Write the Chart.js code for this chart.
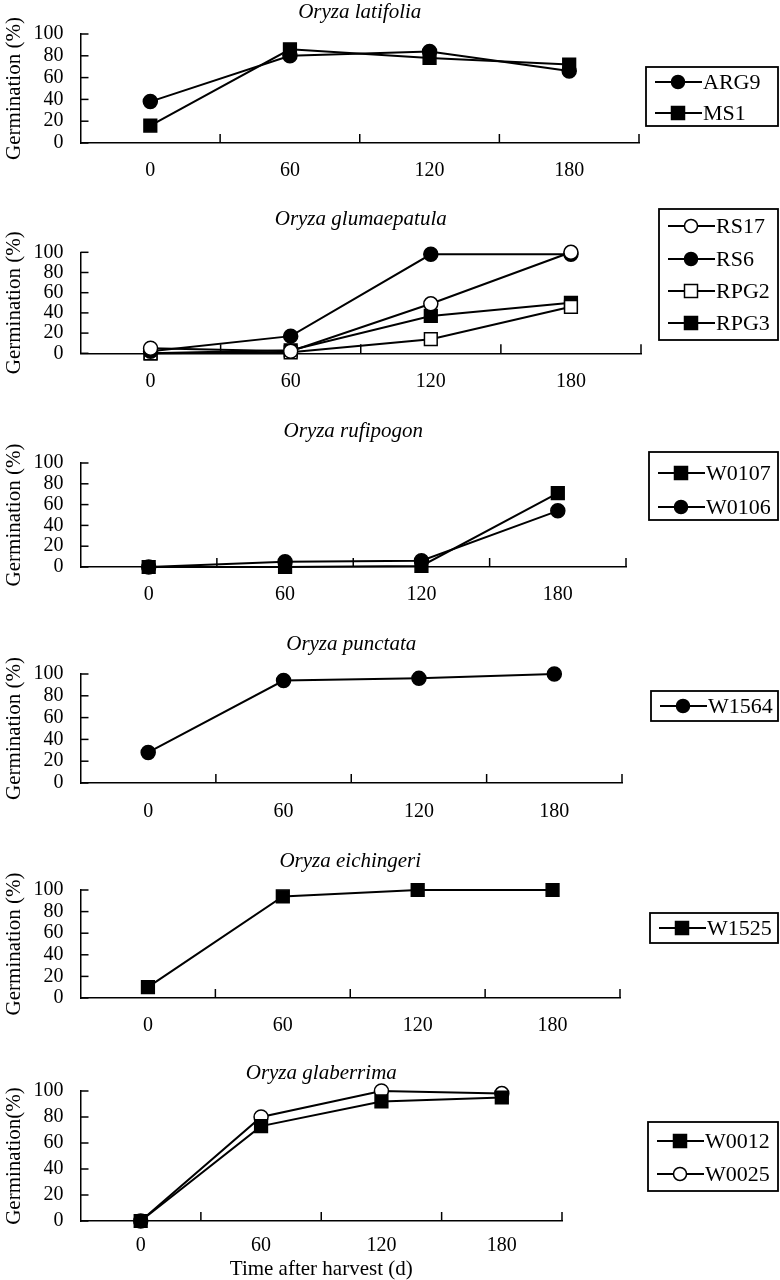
<!DOCTYPE html>
<html>
<head>
<meta charset="utf-8">
<script src="https://cdn.jsdelivr.net/npm/chart.js@4.4.1/dist/chart.umd.min.js"></script>
<style>
  html, body { margin: 0; padding: 0; background: #fff; }
  #page { position: relative; width: 780px; height: 1280px; overflow: hidden; }
  #page canvas { position: absolute; left: 0; }
</style>
</head>
<body>
<div id="page">
  <canvas id="latifolia" width="780" height="200" style="top:0px"></canvas>
  <canvas id="glumaepatula" width="780" height="220" style="top:200px"></canvas>
  <canvas id="rufipogon" width="780" height="212" style="top:420px"></canvas>
  <canvas id="punctata" width="780" height="218" style="top:632px"></canvas>
  <canvas id="eichingeri" width="780" height="212" style="top:850px"></canvas>
  <canvas id="glaberrima" width="780" height="218" style="top:1062px"></canvas>
</div>
<script>
// days after harvest (x categories)
const days = ["0", "60", "120", "180"];

// germination (%)
const arg9 = [38, 80, 84, 66];
const ms1 = [16, 86, 78, 72];

const rs17 = [5, 2, 49, 100];
const rs6 = [2, 17, 98, 98];
const rpg2 = [0, 1, 14, 46];
const rpg3 = [0, 3, 37, 50];

const w0107 = [0, 0, 1, 71];
const w0106 = [0, 5, 6, 54];

const w1564 = [28, 94, 96, 100];

const w1525 = [10, 94, 100, 100];

const w0012 = [0, 73, 92, 95];
const w0025 = [0, 80, 100, 98];

const FONT = "'Liberation Serif', 'Times New Roman', serif";
Chart.defaults.font.family = FONT;
Chart.defaults.color = "#000";

function series(label, values, shape, filled) {
  return {
    label: label,
    data: values,
    borderColor: "#000",
    borderWidth: 2,
    pointStyle: shape,
    pointRadius: shape === "rect" ? 9 : 7,
    pointBackgroundColor: filled ? "#000" : "#fff",
    pointBorderColor: "#000",
    pointBorderWidth: 1.5,
    fill: false,
    tension: 0,
    clip: false
  };
}

function line(ctx, x1, y1, x2, y2) {
  ctx.beginPath();
  ctx.moveTo(x1, y1);
  ctx.lineTo(x2, y2);
  ctx.stroke();
}

function legendMarker(ctx, ds, cx, cy) {
  ctx.fillStyle = ds.pointBackgroundColor;
  ctx.lineWidth = 1.5;
  ctx.beginPath();
  if (ds.pointStyle === "rect") {
    ctx.rect(cx - 6.5, cy - 6.5, 13, 13);
  } else {
    ctx.arc(cx, cy, 6.5, 0, Math.PI * 2);
  }
  ctx.fill();
  ctx.stroke();
}

// title, inward tick marks and boxed legend
const panelPlugin = {
  id: "panel",
  afterDraw(chart, args, opts) {
    const ctx = chart.ctx;
    const x = chart.scales.x;
    const y = chart.scales.y;
    const area = chart.chartArea;
    ctx.save();
    ctx.strokeStyle = "#000";
    ctx.fillStyle = "#000";
    ctx.lineWidth = 1.5;

    y.ticks.forEach((t) => {
      const py = y.getPixelForValue(t.value);
      line(ctx, area.left, py, area.left + 8, py);
    });

    for (let i = 1; i <= days.length; i++) {
      const px = i < days.length
        ? (x.getPixelForValue(i - 1) + x.getPixelForValue(i)) / 2
        : area.right;
      line(ctx, px, area.bottom, px, area.bottom - 9);
    }

    ctx.font = "italic 21px " + FONT;
    ctx.textAlign = "center";
    ctx.textBaseline = "middle";
    ctx.fillText(opts.title, (area.left + area.right) / 2, opts.titleY);

    const [bx, by, bw, bh] = opts.box;
    ctx.lineWidth = 1.8;
    ctx.strokeRect(bx, by, bw, bh);

    chart.data.datasets.forEach((ds, i) => {
      const ly = opts.rows[i];
      ctx.strokeStyle = "#000";
      ctx.lineWidth = 2;
      line(ctx, bx + 9, ly, bx + 56, ly);
      legendMarker(ctx, ds, bx + 32, ly);
      ctx.fillStyle = "#000";
      ctx.font = "22px " + FONT;
      ctx.textAlign = "left";
      ctx.textBaseline = "middle";
      ctx.fillText(ds.label, bx + 57, ly + 1);
    });
    ctx.restore();
  }
};

function makeChart(p) {
  const canvas = document.getElementById(p.id);
  const H = canvas.height;
  const xH = p.xTitle ? 58.5 : 40;
  return new Chart(canvas, {
    type: "line",
    data: { labels: days, datasets: p.datasets },
    options: {
      responsive: false,
      animation: false,
      devicePixelRatio: 1,
      events: [],
      layout: {
        padding: { left: 0, top: p.top, right: 780 - p.right, bottom: H - p.bottom - xH }
      },
      plugins: {
        legend: { display: false },
        tooltip: { enabled: false },
        panel: { title: p.title, titleY: p.titleY, box: p.box, rows: p.rows }
      },
      scales: {
        x: {
          type: "category",
          offset: true,
          grid: { display: false, drawTicks: false, offset: true },
          border: { display: true, color: "#000", width: 1.5 },
          ticks: {
            color: "#000",
            font: { size: 20, lineHeight: 1 },
            padding: p.labelPad,
            autoSkip: false,
            maxRotation: 0
          },
          title: {
            display: !!p.xTitle,
            text: p.xTitle || "",
            color: "#000",
            font: { size: 21, lineHeight: 1 },
            padding: 0
          },
          afterFit: (s) => { s.height = xH; }
        },
        y: {
          min: 0,
          max: 100,
          grid: { display: false, drawTicks: false },
          border: { display: true, color: "#000", width: 1.5 },
          ticks: {
            stepSize: 20,
            color: "#000",
            font: { size: 20, lineHeight: 1 },
            padding: 17,
            autoSkip: false
          },
          title: {
            display: true,
            text: p.yTitle,
            color: "#000",
            font: { size: 21, lineHeight: 1.2 },
            padding: { top: 2, bottom: 0 }
          },
          afterFit: (s) => { s.width = 80.5; }
        }
      }
    },
    plugins: [panelPlugin]
  });
}

makeChart({
  id: "latifolia", title: "Oryza latifolia", yTitle: "Germination (%)",
  top: 34, bottom: 143, right: 639, titleY: 12, labelPad: 18,
  box: [646, 67, 132, 59], rows: [82, 113],
  datasets: [series("ARG9", arg9, "circle", true), series("MS1", ms1, "rect", true)]
});

makeChart({
  id: "glumaepatula", title: "Oryza glumaepatula", yTitle: "Germination (%)",
  top: 52.3, bottom: 153.3, right: 641, titleY: 19, labelPad: 18.7,
  box: [659, 9, 119, 131], rows: [26, 59, 91, 123],
  datasets: [
    series("RS17", rs17, "circle", false),
    series("RS6", rs6, "circle", true),
    series("RPG2", rpg2, "rect", false),
    series("RPG3", rpg3, "rect", true)
  ]
});

makeChart({
  id: "rufipogon", title: "Oryza rufipogon", yTitle: "Germination (%)",
  top: 43, bottom: 147, right: 626, titleY: 11, labelPad: 18,
  box: [649, 32, 129, 68], rows: [53, 87],
  datasets: [series("W0107", w0107, "rect", true), series("W0106", w0106, "circle", true)]
});

makeChart({
  id: "punctata", title: "Oryza punctata", yTitle: "Germination (%)",
  top: 42, bottom: 151, right: 622, titleY: 12, labelPad: 19,
  box: [651, 59, 127, 30], rows: [74],
  datasets: [series("W1564", w1564, "circle", true)]
});

makeChart({
  id: "eichingeri", title: "Oryza eichingeri", yTitle: "Germination (%)",
  top: 40, bottom: 148, right: 620, titleY: 11, labelPad: 18,
  box: [650, 63, 128, 30], rows: [78],
  datasets: [series("W1525", w1525, "rect", true)]
});

makeChart({
  id: "glaberrima", title: "Oryza glaberrima", yTitle: "Germination(%)",
  top: 29, bottom: 159, right: 562, titleY: 11, labelPad: 15,
  xTitle: "Time after harvest (d)",
  box: [648, 60, 130, 69], rows: [79, 112],
  datasets: [series("W0012", w0012, "rect", true), series("W0025", w0025, "circle", false)]
});
</script>
</body>
</html>
